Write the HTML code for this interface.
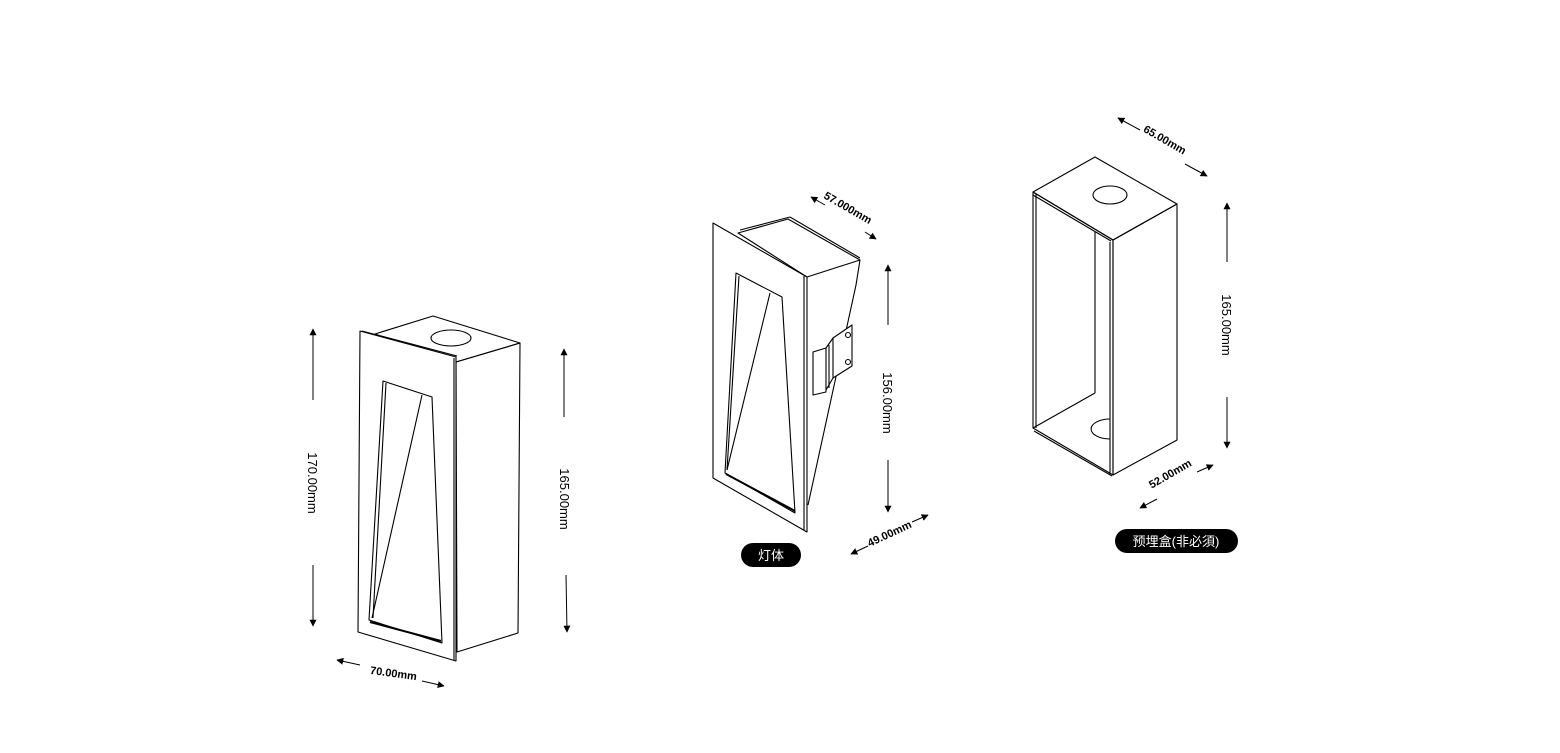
<!DOCTYPE html>
<html><head><meta charset="utf-8"><style>
html,body{margin:0;padding:0;background:#fff;}
svg{display:block;}
text{font-family:"Liberation Sans","Noto Sans CJK SC",sans-serif;}
</style></head><body>
<svg width="1560" height="753" viewBox="0 0 1560 753" xmlns="http://www.w3.org/2000/svg">
<defs>
<marker id="ah" viewBox="0 0 10 10" refX="9" refY="5" markerWidth="7" markerHeight="7" orient="auto-start-reverse"><path d="M0,0 L10,5 L0,10 z" fill="#000"/></marker>
</defs>
<g fill="none" stroke="#000" stroke-width="1.1" stroke-linejoin="round">
<polygon points="375,334 433,316 520,343 456,362" fill="#fff"/>
<polygon points="456,362 520,343 518,633 457,652"/>
<polygon points="360,331 456,357 456,661 358,632" fill="#fff"/>
<line x1="362" y1="331" x2="457" y2="356"/>
<line x1="454" y1="358" x2="454" y2="660"/>
<ellipse cx="451" cy="338" rx="20" ry="8"/>
<polygon points="383,381 432,397 442,643 369,620"/>
<line x1="386" y1="383" x2="373" y2="618"/>
<line x1="422" y1="395" x2="372" y2="618"/>
<line x1="370" y1="622" x2="441" y2="641" stroke-width="2"/>
<polygon points="738,233 788,219 860,260 807,277" fill="#fff"/>
<line x1="740" y1="230" x2="790" y2="217"/>
<line x1="790" y1="217" x2="860" y2="258"/>
<polyline points="860,260 856,285 808,505"/>
<polygon points="713,223 807,277 807,532 713,478" fill="#fff"/>
<line x1="804" y1="276" x2="804" y2="530"/>
<polygon points="736,273 782,297 795,513 725,473"/>
<line x1="739" y1="276" x2="727" y2="470"/>
<line x1="770" y1="293" x2="727" y2="470"/>
<line x1="726" y1="474" x2="795" y2="511" stroke-width="2"/>
<polygon points="833,338 852,325 852,366 833,378" fill="#fff"/>
<polyline points="833,338 826,348 826,392 813,395 813,352 826,348"/>
<line x1="829" y1="345" x2="829" y2="388"/>
<line x1="833" y1="378" x2="826" y2="390"/>
<circle cx="848" cy="335" r="2.5"/>
<circle cx="848" cy="362" r="2.5"/>
<polygon points="1033,192 1095,157 1177,204 1113,240" fill="#fff"/>
<ellipse cx="1110" cy="195" rx="17" ry="9"/>
<polygon points="1113,240 1177,204 1177,440 1113,475"/>
<polyline points="1033,192 1033,428 1113,475 1113,240 1033,192"/>
<line x1="1036" y1="194" x2="1036" y2="428"/>
<line x1="1033" y1="195" x2="1111" y2="241"/>
<line x1="1110" y1="242" x2="1110" y2="474"/>
<line x1="1034" y1="431" x2="1112" y2="476"/>
<line x1="1095" y1="232" x2="1095" y2="393"/>
<line x1="1095" y1="393" x2="1033" y2="428"/>
<path d="M1110,419 A17,9 0 0 0 1110,439"/>
<g stroke-width="1">
<line x1="313" y1="400" x2="313" y2="329" marker-end="url(#ah)"/>
<line x1="313" y1="565" x2="313" y2="626" marker-end="url(#ah)"/>
<line x1="564" y1="417" x2="564" y2="349" marker-end="url(#ah)"/>
<line x1="566" y1="575" x2="567" y2="632" marker-end="url(#ah)"/>
<line x1="360" y1="665" x2="337" y2="660" marker-end="url(#ah)"/>
<line x1="422" y1="681" x2="444" y2="686" marker-end="url(#ah)"/>
<line x1="825" y1="205" x2="811" y2="197" marker-end="url(#ah)"/>
<line x1="865" y1="232" x2="876" y2="239" marker-end="url(#ah)"/>
<line x1="888" y1="325" x2="888" y2="265" marker-end="url(#ah)"/>
<line x1="888" y1="460" x2="888" y2="512" marker-end="url(#ah)"/>
<line x1="868" y1="546" x2="851" y2="554" marker-end="url(#ah)"/>
<line x1="912" y1="522" x2="928" y2="515" marker-end="url(#ah)"/>
<line x1="1140" y1="130" x2="1118" y2="118" marker-end="url(#ah)"/>
<line x1="1185" y1="164" x2="1207" y2="176" marker-end="url(#ah)"/>
<line x1="1227" y1="262" x2="1227" y2="203" marker-end="url(#ah)"/>
<line x1="1227" y1="397" x2="1227" y2="448" marker-end="url(#ah)"/>
<line x1="1157" y1="499" x2="1140" y2="508" marker-end="url(#ah)"/>
<line x1="1197" y1="472" x2="1213" y2="465" marker-end="url(#ah)"/>
</g>
</g>
<g font-size="13" fill="#000">
<text transform="translate(308,483) rotate(90)" text-anchor="middle">170.00mm</text>
<text transform="translate(560,499) rotate(90)" text-anchor="middle">165.00mm</text>
<text transform="translate(393,677) rotate(8)" text-anchor="middle" font-size="11" font-weight="600">70.00mm</text>
<text transform="translate(846,211) rotate(30)" text-anchor="middle" font-size="11" font-weight="600">57.000mm</text>
<text transform="translate(883,403) rotate(90)" text-anchor="middle">156.00mm</text>
<text transform="translate(891,537) rotate(-25)" text-anchor="middle" font-size="11" font-weight="600">49.00mm</text>
<text transform="translate(1163,143) rotate(30)" text-anchor="middle" font-size="11" font-weight="600">65.00mm</text>
<text transform="translate(1222,325) rotate(90)" text-anchor="middle">165.00mm</text>
<text transform="translate(1172,477) rotate(-30)" text-anchor="middle" font-size="11" font-weight="600">52.00mm</text>
</g>
<rect x="741" y="543" width="60" height="24" rx="12" fill="#000"/>
<text x="771" y="560" text-anchor="middle" fill="#fff" font-size="13">灯体</text>
<rect x="1115" y="529" width="123" height="24" rx="12" fill="#000"/>
<text x="1176" y="546" text-anchor="middle" fill="#fff" font-size="13">预埋盒(非必須)</text>
</svg>
</body></html>
